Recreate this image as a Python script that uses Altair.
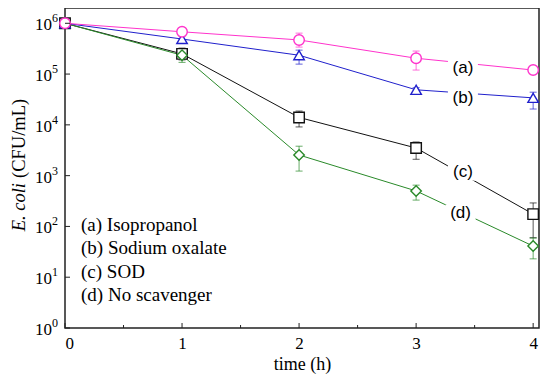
import altair as alt
import pandas as pd

times = [0, 1, 2, 3, 4]
series = ["(a) Isopropanol", "(b) Sodium oxalate", "(c) SOD", "(d) No scavenger"]
colors = ["#FF33CC", "#2020CC", "#111111", "#2A8A2A"]
shapes = ["circle", "triangle-up", "square", "diamond"]
sizes = [110, 110, 85, 150]
draw_order = [2, 3, 1, 0]

val_a = [1.0e6, 6.8e5, 4.7e5, 2.05e5, 1.2e5]
val_b = [1.0e6, 4.9e5, 2.35e5, 4.9e4, 3.4e4]
val_c = [1.0e6, 2.5e5, 1.4e4, 3.5e3, 1.75e2]
val_d = [1.0e6, 2.35e5, 2.55e3, 5.0e2, 4.1e1]

lo_a = [8.5e5, 5.9e5, 3.4e5, 1.2e5, 1.08e5]
hi_a = [1.15e6, 7.7e5, 6.4e5, 2.84e5, 1.32e5]
lo_b = [8.5e5, 4.2e5, 1.57e5, 4.4e4, 2.05e4]
hi_b = [1.15e6, 5.6e5, 2.96e5, 5.4e4, 4.4e4]
lo_c = [8.5e5, 1.9e5, 9.1e3, 2.1e3, 6.0e1]
hi_c = [1.15e6, 3.25e5, 1.87e4, 4.6e3, 2.9e2]
lo_d = [8.5e5, 1.7e5, 1.23e3, 3.3e2, 2.3e1]
hi_d = [1.15e6, 2.96e5, 3.8e3, 6.5e2, 5.9e1]

tag_text = ["(a)", "(b)", "(c)", "(d)"]
tag_x = [3.4, 3.4, 3.4, 3.38]
tag_y = [1.3e5, 3.4e4, 1.2e3, 1.8e2]

x_major = [0, 1, 2, 3, 4]
x_minor = [0.5, 1.5, 2.5, 3.5]
y_major = [1, 10, 100, 1e3, 1e4, 1e5, 1e6]
y_exp = ["0", "1", "2", "3", "4", "5", "6"]

vals = [val_a, val_b, val_c, val_d]
los = [lo_a, lo_b, lo_c, lo_d]
his = [hi_a, hi_b, hi_c, hi_d]
rows = []
for k in draw_order:
    for t, vv, l, h in zip(times, vals[k], los[k], his[k]):
        rows.append({"series": series[k], "t": t, "v": vv, "lo": l, "hi": h})
df = pd.DataFrame(rows)

tags = pd.DataFrame({"tag": tag_text, "t": tag_x, "v": tag_y})
ylab = pd.DataFrame({"v": y_major, "e": y_exp})

W, H = 474, 320
xs = alt.Scale(domain=[0, 4.05], nice=False, zero=False)
ys = alt.Scale(type="log", domain=[1, 2e6], nice=False)
cs = alt.Scale(domain=series, range=colors)
ss = alt.Scale(domain=series, range=shapes)
zs = alt.Scale(domain=series, range=sizes)

SERIF = "Liberation Serif, Times New Roman, serif"

X = alt.X("t:Q", scale=xs, axis=alt.Axis(values=x_major, format="d", title="time (h)", domain=False, ticks=False,
                                          labelFont=SERIF, labelFontSize=17, labelColor="black",
                                          labelPadding=7, titleFont=SERIF, titleFontSize=18,
                                          titleFontWeight="normal", titleColor="black", titlePadding=4,
                                          grid=False))
Y = alt.Y("v:Q", scale=ys, axis=alt.Axis(values=y_major, labels=False, ticks=False, domain=False,
                                          grid=False, title=None))

base = alt.Chart(df)
col = alt.Color("series:N", scale=cs, legend=None)

err_rule = base.mark_rule(strokeWidth=1, opacity=0.7).encode(
    x=alt.X("t:Q", scale=xs), y=alt.Y("lo:Q", scale=ys), y2="hi:Q", color=col)
err_lo = base.mark_tick(orient="horizontal", size=7, thickness=1, opacity=0.7).encode(
    x=alt.X("t:Q", scale=xs), y=alt.Y("lo:Q", scale=ys), color=col)
err_hi = base.mark_tick(orient="horizontal", size=7, thickness=1, opacity=0.7).encode(
    x=alt.X("t:Q", scale=xs), y=alt.Y("hi:Q", scale=ys), color=col)

lines = base.mark_line(strokeWidth=1).encode(x=X, y=Y, color=col, detail="series:N")

points = base.mark_point(filled=False, fill="white", fillOpacity=1, strokeWidth=1.4, opacity=1).encode(
    x=alt.X("t:Q", scale=xs), y=alt.Y("v:Q", scale=ys),
    color=col,
    shape=alt.Shape("series:N", scale=ss, legend=None),
    size=alt.Size("series:N", scale=zs, legend=None))

tag_box = alt.Chart(tags).mark_point(filled=True, fill="white", fillOpacity=1, opacity=1, strokeWidth=0,
                                     shape="M-1.5,-0.9H1.5V0.9H-1.5Z", size=400).encode(
    x=alt.X("t:Q", scale=xs), y=alt.Y("v:Q", scale=ys))
tag_txt = alt.Chart(tags).mark_text(font="Liberation Sans", fontSize=17, color="black", baseline="middle").encode(
    x=alt.X("t:Q", scale=xs), y=alt.Y("v:Q", scale=ys), text="tag:N")

ylab10 = alt.Chart(ylab).mark_text(font=SERIF, fontSize=17, color="black", align="right",
                                   baseline="middle", dy=2, text="10").encode(
    y=alt.Y("v:Q", scale=ys), x=alt.value(-13))
ylabexp = alt.Chart(ylab).mark_text(font=SERIF, fontSize=12, color="black", align="left",
                                    baseline="middle", dy=-5).encode(
    y=alt.Y("v:Q", scale=ys), x=alt.value(-13), text="e:N")

legend_layers = []
for i, name in enumerate(series):
    legend_layers.append(
        alt.Chart(pd.DataFrame({"s": [name]})).mark_text(
            font=SERIF, fontSize=19, color="black", align="left", baseline="middle").encode(
            text="s:N", x=alt.value(16), y=alt.value(217 + 23.3 * i)))

xt_major = alt.Chart(pd.DataFrame({"t": x_major})).mark_rule(color="#222", strokeWidth=1).encode(
    x=alt.X("t:Q", scale=xs), y=alt.value(H), y2=alt.value(H - 5))
xt_minor = alt.Chart(pd.DataFrame({"t": x_minor})).mark_rule(color="#222", strokeWidth=1).encode(
    x=alt.X("t:Q", scale=xs), y=alt.value(H), y2=alt.value(H - 3))
yt_major = alt.Chart(pd.DataFrame({"v": y_major})).mark_rule(color="#222", strokeWidth=1).encode(
    y=alt.Y("v:Q", scale=ys), x=alt.value(0), x2=alt.value(5))

ttl = pd.DataFrame({"a": ["E. coli"], "b": ["(CFU/mL)"]})
ytitle1 = alt.Chart(ttl).mark_text(font=SERIF, fontSize=18.5, fontStyle="italic", angle=270,
                                   align="right", baseline="middle", color="black").encode(
    text="a:N", x=alt.value(-46), y=alt.value(175))
ytitle2 = alt.Chart(ttl).mark_text(font=SERIF, fontSize=18.5, angle=270,
                                   align="left", baseline="middle", color="black").encode(
    text="b:N", x=alt.value(-46), y=alt.value(170))

chart = alt.layer(err_rule, err_lo, err_hi, lines, points, tag_box, tag_txt,
                  xt_major, xt_minor, yt_major, ylab10, ylabexp, *legend_layers, ytitle1, ytitle2).properties(
    width=W, height=H,
    autosize=alt.AutoSizeParams(type="none"),
    padding={"left": 57, "top": 0, "right": 3, "bottom": 46},
    background="white",
).configure_view(stroke="#222", strokeWidth=1.5)

chart.save("out.html", embed_options={"renderer": "svg", "actions": False})
